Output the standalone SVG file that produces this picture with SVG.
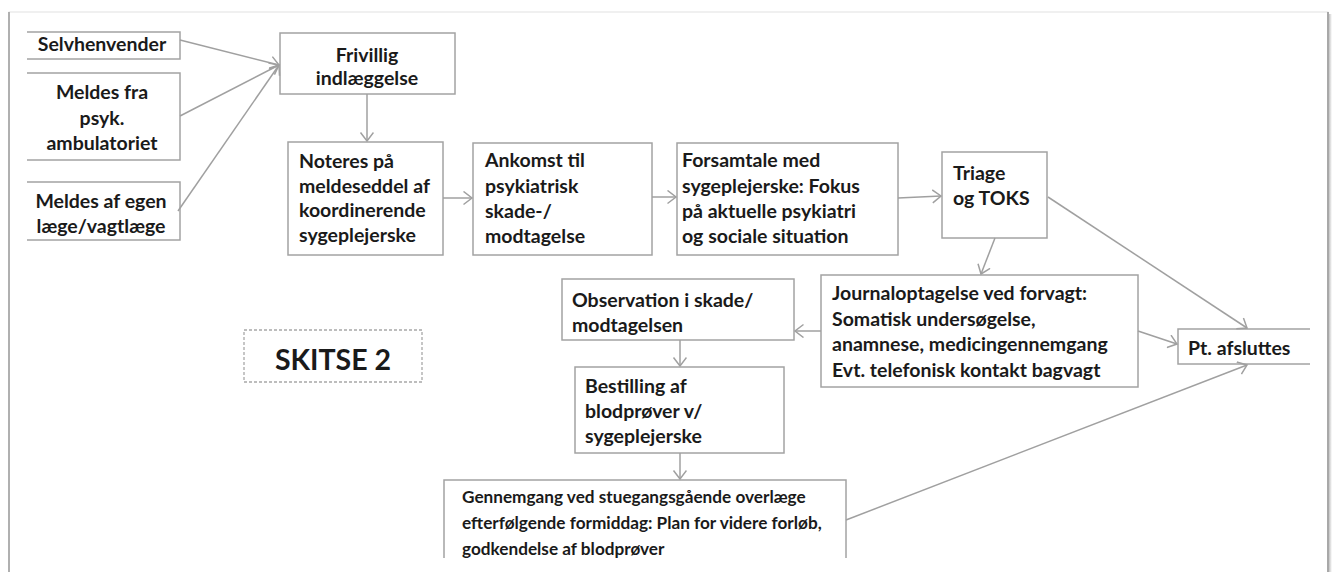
<svg xmlns="http://www.w3.org/2000/svg" width="1335" height="572" viewBox="0 0 1335 572">
<style>
.box{fill:#fff;stroke:#a3a3a3;stroke-width:1.5}
.t{font-family:Lato,"Open Sans","Liberation Sans",sans-serif;font-weight:bold;font-size:19.5px;fill:#1a1a1a}
.c{text-anchor:middle}
.g{font-size:17.2px}
.conn line,.conn polyline{stroke:#a0a0a0;stroke-width:1.5;fill:none;marker-end:url(#ah)}
</style>
<defs>
<marker id="ah" markerUnits="userSpaceOnUse" markerWidth="14" markerHeight="16" refX="9" refY="7" orient="auto">
<path d="M0.5,0.5 L9,7 L0.5,13.5" fill="none" stroke="#a0a0a0" stroke-width="1.5"/>
</marker>
<clipPath id="clip"><rect x="27" y="20" width="1283" height="538"/></clipPath>
<linearGradient id="sh" x1="0" x2="1" y1="0" y2="0">
<stop offset="0" stop-color="#999"/><stop offset="1" stop-color="#fff"/>
</linearGradient>
</defs>
<rect width="1335" height="572" fill="#fff"/>
<g id="page">
<rect x="9" y="12" width="1319" height="600" fill="#fff" stroke="#e2e2e2" stroke-width="1"/>
<line x1="9" y1="12" x2="9" y2="572" stroke="#b0b0b0" stroke-width="2"/>
<line x1="1328" y1="12" x2="1328" y2="572" stroke="#a8a8a8" stroke-width="2"/>
<rect x="1329" y="14" width="3" height="558" fill="url(#sh)" opacity="0.6"/>
</g>
<g clip-path="url(#clip)">
<g id="n-selv"><rect class="box" x="10" y="32" width="170" height="27"/><text class="t c" x="102" y="51">Selvhenvender</text></g>
<g id="n-meldes-fra"><rect class="box" x="10" y="73" width="170" height="87"/><text class="t c" x="102" y="99">Meldes fra</text><text class="t c" x="102" y="124.5">psyk.</text><text class="t c" x="102" y="150">ambulatoriet</text></g>
<g id="n-meldes-af"><rect class="box" x="10" y="182" width="170" height="58"/><text class="t c" x="101" y="208">Meldes af egen</text><text class="t c" x="101" y="233">læge/vagtlæge</text></g>
<g id="n-frivillig"><rect class="box" x="280" y="33" width="175" height="61"/><text class="t c" x="367" y="62">Frivillig</text><text class="t c" x="367" y="85">indlæggelse</text></g>
<g id="n-noteres"><rect class="box" x="288" y="142" width="155" height="113"/><text class="t" x="299" y="168">Noteres på</text><text class="t" x="299" y="192.5">meldeseddel af</text><text class="t" x="299" y="217">koordinerende</text><text class="t" x="299" y="241.5">sygeplejerske</text></g>
<g id="n-ankomst"><rect class="box" x="473" y="143" width="179" height="112"/><text class="t" x="485" y="167">Ankomst til</text><text class="t" x="485" y="192.5">psykiatrisk</text><text class="t" x="485" y="218">skade-/</text><text class="t" x="485" y="243">modtagelse</text></g>
<g id="n-forsamtale"><rect class="box" x="677" y="143" width="221" height="112"/><text class="t" x="682" y="167">Forsamtale med</text><text class="t" x="682" y="192.5">sygeplejerske: Fokus</text><text class="t" x="682" y="218">på aktuelle psykiatri</text><text class="t" x="682" y="243">og sociale situation</text></g>
<g id="n-triage"><rect class="box" x="942" y="152" width="105" height="86"/><text class="t" x="953" y="180">Triage</text><text class="t" x="953" y="205">og TOKS</text></g>
<g id="n-journal"><rect class="box" x="821" y="275" width="317" height="112"/><text class="t" x="832" y="300">Journaloptagelse ved forvagt:</text><text class="t" x="832" y="325.5">Somatisk undersøgelse,</text><text class="t" x="832" y="351">anamnese, medicingennemgang</text><text class="t" x="832" y="376.5">Evt. telefonisk kontakt bagvagt</text></g>
<g id="n-pt"><rect class="box" x="1178" y="329" width="160" height="35"/><text class="t" x="1188" y="355">Pt. afsluttes</text></g>
<g id="n-observation"><rect class="box" x="562" y="279" width="232" height="61"/><text class="t" x="572" y="307">Observation i skade/</text><text class="t" x="572" y="332">modtagelsen</text></g>
<g id="n-bestilling"><rect class="box" x="575" y="367" width="209" height="86"/><text class="t" x="585" y="393">Bestilling af</text><text class="t" x="585" y="418">blodprøver v/</text><text class="t" x="585" y="443">sygeplejerske</text></g>
<g id="n-gennemgang"><rect class="box" x="444" y="480" width="402" height="110"/><text class="t g" x="462" y="503">Gennemgang ved stuegangsgående overlæge</text><text class="t g" x="462" y="529">efterfølgende formiddag: Plan for videre forløb,</text><text class="t g" x="462" y="555">godkendelse af blodprøver</text></g>
<g id="connectors" class="conn">
<line x1="180" y1="40" x2="279" y2="65"/>
<line x1="180" y1="116" x2="279" y2="65"/>
<line x1="178" y1="211" x2="279" y2="65"/>
<line x1="367" y1="94" x2="367" y2="141"/>
<line x1="443" y1="198" x2="472" y2="198"/>
<line x1="652" y1="197" x2="676" y2="197"/>
<line x1="898" y1="198" x2="941" y2="196"/>
<line x1="995" y1="238" x2="981" y2="274"/>
<line x1="1048" y1="197" x2="1247" y2="328"/>
<line x1="1138" y1="331" x2="1177" y2="344"/>
<line x1="821" y1="331" x2="795" y2="331"/>
<line x1="680" y1="340" x2="680" y2="366"/>
<line x1="680" y1="453" x2="680" y2="479"/>
<line x1="846" y1="520" x2="1247" y2="365"/>
</g>
</g>
<g id="n-skitse"><rect x="244" y="330" width="178" height="52" fill="#fff" stroke="#a8a8a8" stroke-width="1.3" stroke-dasharray="3,2"/><text class="t c" x="333" y="370" style="font-size:28.5px">SKITSE 2</text></g>
</svg>
